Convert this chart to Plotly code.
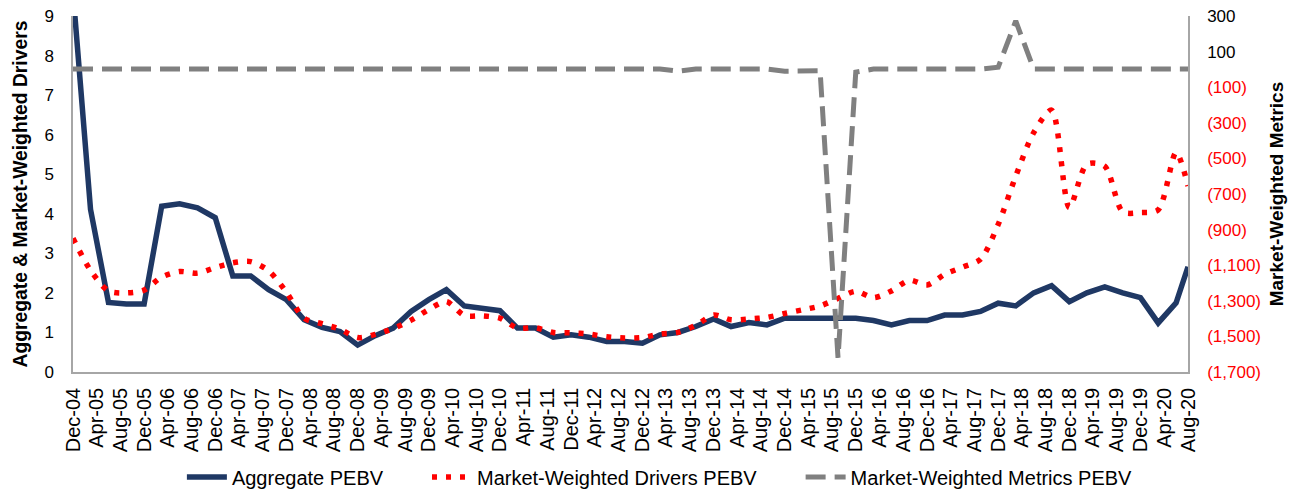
import pandas as pd
import plotly.graph_objects as go

# quarterly observations Dec-04 .. Jun-20, plus the last point Aug-20
dates = list(pd.date_range("2004-12-01", "2020-06-01", freq="3MS")) + [pd.Timestamp("2020-08-01")]

aggregate_pebv = [
    9.6, 4.11, 1.76, 1.72, 1.72, 4.19, 4.25, 4.15, 3.9, 2.43, 2.43, 2.08, 1.83, 1.32, 1.13, 1.02,
    0.68, 0.92, 1.11, 1.53, 1.83, 2.08, 1.67, 1.62, 1.55, 1.11, 1.11, 0.88, 0.94, 0.88, 0.77, 0.77,
    0.73, 0.94, 1.0, 1.15, 1.34, 1.15, 1.25, 1.19, 1.36, 1.36, 1.36, 1.36, 1.36, 1.3, 1.19, 1.3,
    1.3, 1.44, 1.44, 1.53, 1.74, 1.67, 2.0, 2.18, 1.78, 2.0, 2.15, 2.0, 1.88, 1.24, 1.75, 2.66,
]

drivers_pebv = [
    3.38, 2.57, 2.05, 2.0, 2.07, 2.4, 2.54, 2.5, 2.64, 2.76, 2.79, 2.56, 2.02, 1.36, 1.22, 1.08,
    0.87, 0.95, 1.1, 1.31, 1.58, 1.78, 1.43, 1.42, 1.36, 1.11, 1.12, 1.0, 0.99, 0.96, 0.89, 0.86,
    0.87, 0.96, 1.0, 1.18, 1.44, 1.32, 1.34, 1.38, 1.48, 1.57, 1.67, 1.86, 2.04, 1.88, 2.05, 2.32,
    2.2, 2.47, 2.65, 2.85, 3.73, 4.95, 6.05, 6.62, 4.16, 5.25, 5.2, 4.05, 4.03, 4.1, 5.55, 4.7,
]

metrics_pebv = [
    2, 2, 2, 2, 2, 2, 2, 2, 2, 2, 2, 2, 2, 2, 2, 2,
    2, 2, 2, 2, 2, 2, 2, 2, 2, 2, 2, 2, 2, 2, 2, 2,
    2, 2, -10, 2, 2, 2, 2, 2, -10, -10, -8, -1620, -15, 2, 2, 2,
    2, 2, 2, 2, 12, 272, 2, 2, 2, 2, 2, 2, 2, 2, 2, 2,
]

right_ticks = [300, 100, -100, -300, -500, -700, -900, -1100, -1300, -1500, -1700]


def fmt_right(v):
    if v < 0:
        return '<span style="color:#FF0000">({:,})</span>'.format(-v)
    return "{:,}".format(v)


font = "Liberation Sans, Arial, sans-serif"
pad = "\u00a0" * 7  # extra room between legend entries

fig = go.Figure()

fig.add_trace(go.Scatter(
    x=dates, y=aggregate_pebv, name="Aggregate PEBV" + pad, mode="lines",
    line=dict(color="#1F3864", width=5.5),
))
fig.add_trace(go.Scatter(
    x=dates, y=drivers_pebv, name="Market-Weighted Drivers PEBV" + pad, mode="lines",
    line=dict(color="#FF0000", width=5.5, dash="5px,9px", shape="spline", smoothing=0.8),
))
fig.add_trace(go.Scatter(
    x=dates, y=metrics_pebv, name="Market-Weighted Metrics PEBV", mode="lines",
    line=dict(color="#808080", width=5, dash="20px,9px"),
    yaxis="y2",
))

# the page body keeps its default 8px margin, so the figure is 8px smaller
fig.update_layout(
    width=1296, height=481,
    margin=dict(l=65, r=116, t=8, b=117, autoexpand=False),
    paper_bgcolor="white", plot_bgcolor="white",
    font=dict(family=font, size=17, color="black"),
    showlegend=True,
    legend=dict(
        orientation="h", xref="container", x=0.503, xanchor="center",
        yref="container", y=0.025, yanchor="middle",
        font=dict(size=20), itemwidth=40,
    ),
    xaxis=dict(
        type="date", automargin=False,
        range=["2004-12-01", "2020-08-01"],
        tick0="2004-12-01", dtick="M4", tickformat="%b-%y",
        tickangle=-90, tickfont=dict(size=20), showgrid=False, zeroline=False,
        showline=True, linecolor="#A6A6A6", linewidth=1.5,
        ticks="", ticklabelstandoff=6, ticklabeloverflow="allow",
    ),
    yaxis=dict(
        range=[0, 9], dtick=1, showgrid=False, zeroline=False, automargin=False,
        showline=True, linecolor="#A6A6A6", linewidth=1.5,
        ticks="", ticklabelstandoff=14, ticklabeloverflow="allow",
        title=dict(text="<b>Aggregate & Market-Weighted Drivers</b>", font=dict(size=19.3), standoff=12),
    ),
    yaxis2=dict(
        overlaying="y", side="right", automargin=False,
        range=[-1700, 300],
        tickvals=right_ticks, ticktext=[fmt_right(v) for v in right_ticks],
        showgrid=False, zeroline=False,
        showline=True, linecolor="#A6A6A6", linewidth=1.5,
        ticks="", ticklabelstandoff=14, ticklabeloverflow="allow",
        title=dict(text="<b>Market-Weighted Metrics</b>", font=dict(size=19), standoff=10),
    ),
)

fig.write_html("out.html")
